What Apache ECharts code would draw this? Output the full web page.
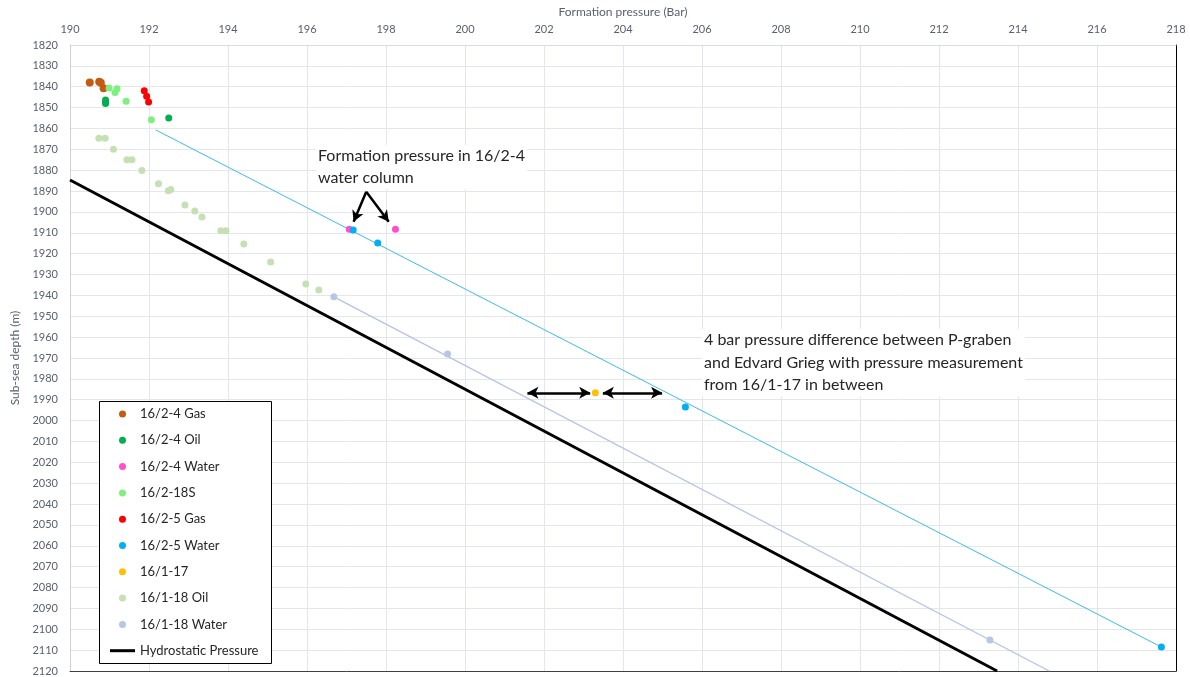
<!DOCTYPE html>
<html>
<head>
<meta charset="utf-8">
<title>Formation pressure vs depth</title>
<script src="https://cdn.jsdelivr.net/npm/echarts@6/dist/echarts.min.js"></script>
<style>
  html, body { margin: 0; padding: 0; background: #fff; }
  #chart { width: 1190px; height: 677px; }
</style>
</head>
<body>
<div id="chart"></div>
<script>
// Pressure (bar) vs sub-sea depth (m) measurements per well
const gas24 = [[190.50, 1838.0], [190.74, 1837.6], [190.78, 1838.1], [190.85, 1840.7]];
const oil24 = [[190.90, 1846.4], [190.90, 1847.2], [190.90, 1848.0], [192.50, 1855.0]];
const water24 = [[197.07, 1908.3], [198.24, 1908.3]];
const well218S = [[190.99, 1840.6], [191.19, 1841.0], [191.14, 1842.8], [191.42, 1846.9], [192.06, 1855.8]];
const gas25 = [[191.88, 1841.9], [191.94, 1844.6], [191.99, 1847.3]];
const water25 = [[197.17, 1908.6], [197.79, 1914.9], [205.58, 1993.5], [217.63, 2108.5]];
const well117 = [[203.30, 1986.7]];
const oil118 = [
  [190.73, 1864.7], [190.89, 1864.7], [191.10, 1870.0], [191.44, 1875.0], [191.57, 1875.0],
  [191.82, 1880.2], [192.24, 1886.5], [192.49, 1889.8], [192.55, 1889.2], [192.91, 1896.7],
  [193.16, 1899.5], [193.34, 1902.4], [193.82, 1909.0], [193.95, 1909.0], [194.40, 1915.4],
  [195.08, 1924.0], [195.97, 1934.5], [196.30, 1937.4]
];
const water118 = [[196.68, 1940.7], [199.56, 1968.1], [213.29, 2105.2]];

// Gradient lines
const hydrostatic = [[190.00, 1884.7], [213.47, 2120.0]];
const trend25 = [[192.17, 1860.7], [217.63, 2108.5]];
const trend118 = [[196.68, 1940.7], [214.79, 2120.0]];

// Annotation arrows (data coordinates)
const diffArrows = [
  [[201.58, 1986.7], [203.17, 1986.7]],
  [[203.49, 1986.7], [204.99, 1986.7]]
];
const waterApex = [197.50, 1890.3];
const waterTargets = [[197.18, 1904.7], [198.07, 1904.7]];

// Axis ranges
const xRange = { min: 190, max: 218, interval: 2 };
const yRange = { min: 1820, max: 2120, interval: 10 };

const FONT = 'Lato';
const AXIS_TEXT = '#596070';

const scatterDefs = [
  { name: '16/2-4 Gas', data: gas24, color: '#C55A11', size: 8 },
  { name: '16/2-4 Oil', data: oil24, color: '#00B050', size: 7 },
  { name: '16/2-4 Water', data: water24, color: '#FF4FD0', size: 7 },
  { name: '16/2-18S', data: well218S, color: '#7DF07D', size: 7 },
  { name: '16/2-5 Gas', data: gas25, color: '#FF0000', size: 7 },
  { name: '16/2-5 Water', data: water25, color: '#00B0F0', size: 7 },
  { name: '16/1-17', data: well117, color: '#FFC000', size: 7 },
  { name: '16/1-18 Oil', data: oil118, color: '#C5E0B4', size: 7 },
  { name: '16/1-18 Water', data: water118, color: '#B4C7E7', size: 7 }
];

const arrowLines = diffArrows.map(a => [
  { coord: a[0], symbol: 'arrow' },
  { coord: a[1], symbol: 'arrow' }
]).concat(waterTargets.map(t => [
  { coord: waterApex, symbol: 'none' },
  { coord: t, symbol: 'arrow' }
]));

const series = [
  {
    name: '16/2-5 Water gradient', type: 'line', data: trend25, symbol: 'none', silent: true,
    lineStyle: { color: '#3BBCEB', width: 1 }, z: 1
  },
  {
    name: '16/1-18 Water gradient', type: 'line', data: trend118, symbol: 'none', silent: true,
    lineStyle: { color: '#B4C3E4', width: 1.3 }, z: 1
  },
  {
    name: 'Hydrostatic Pressure', type: 'line', data: hydrostatic, symbol: 'none', silent: true,
    lineStyle: { color: '#000', width: 3 }, itemStyle: { color: '#000' }, z: 1
  }
].concat(scatterDefs.map(d => ({
  name: d.name, type: 'scatter', data: d.data, symbolSize: d.size,
  itemStyle: { color: d.color, opacity: 1 }, z: 3
})));

// Arrows drawn on the 16/1-17 series
series.forEach(s => {
  if (s.name === '16/1-17') {
    s.markLine = {
      silent: true, symbolSize: [9, 11], animation: false,
      label: { show: false },
      lineStyle: { color: '#000', width: 2.5, type: 'solid' },
      emphasis: { disabled: true },
      data: arrowLines
    };
  }
});

const legendNames = scatterDefs.map(d => d.name).concat(['Hydrostatic Pressure']);

const chart = echarts.init(document.getElementById('chart'), null, { renderer: 'canvas' });
chart.setOption({
  animation: false,
  backgroundColor: '#fff',
  textStyle: { fontFamily: FONT },
  grid: { left: 70, right: 14, top: 45, bottom: 6 },
  xAxis: [
    {
      type: 'value', position: 'top', min: xRange.min, max: xRange.max, interval: xRange.interval,
      name: 'Formation pressure (Bar)', nameLocation: 'middle', nameGap: 27,
      nameTextStyle: { color: AXIS_TEXT, fontSize: 12, fontFamily: FONT },
      axisLine: { show: true, lineStyle: { color: '#D9DCE3', width: 1 } },
      axisTick: { show: false },
      axisLabel: { color: AXIS_TEXT, fontSize: 11, margin: 10, fontFamily: FONT },
      splitLine: { show: true, lineStyle: { color: '#E3E6EC', width: 1 } }
    },
    {
      type: 'value', position: 'bottom', min: xRange.min, max: xRange.max,
      axisLine: { show: true, onZero: false, lineStyle: { color: '#404040', width: 1 } },
      axisTick: { show: false }, axisLabel: { show: false }, splitLine: { show: false }
    }
  ],
  yAxis: [
    {
      type: 'value', inverse: true, min: yRange.min, max: yRange.max, interval: yRange.interval,
      name: 'Sub-sea depth (m)', nameLocation: 'middle', nameGap: 44,
      nameTextStyle: { color: AXIS_TEXT, fontSize: 12, fontFamily: FONT },
      axisLine: { show: true, onZero: false, lineStyle: { color: '#CDD2DA', width: 1 } },
      axisTick: { show: false },
      axisLabel: { color: AXIS_TEXT, fontSize: 11, margin: 12, fontFamily: FONT, formatter: v => String(v) },
      splitLine: { show: true, lineStyle: { color: '#E3E6EC', width: 1 } }
    },
    {
      type: 'value', position: 'right', inverse: true, min: yRange.min, max: yRange.max,
      axisLine: { show: true, onZero: false, lineStyle: { color: '#000', width: 1 } },
      axisTick: { show: false }, axisLabel: { show: false }, splitLine: { show: false }
    }
  ],
  legend: {
    orient: 'vertical', left: 110, top: 407.5, padding: 0,
    itemWidth: 25, itemHeight: 7, itemGap: 13.3,
    selectedMode: false,
    textStyle: { fontSize: 13, color: '#262626', fontFamily: FONT },
    data: legendNames.map(n => n === 'Hydrostatic Pressure'
      ? { name: n, icon: 'path://M0,0L25,0L25,3L0,3Z', itemStyle: { color: '#000' } }
      : { name: n })
  },
  graphic: [
    {
      type: 'rect', z: 3, silent: true,
      shape: { x: 99.5, y: 401.5, width: 172, height: 262 },
      style: { fill: '#fff', stroke: '#000', lineWidth: 1 }
    },
    {
      type: 'text', z: 5, left: 316, top: 145, silent: true,
      style: {
        text: 'Formation pressure in 16/2-4\nwater column',
        font: '16px Lato', fill: '#262626', lineHeight: 22,
        backgroundColor: '#fff', padding: [0, 2, 0, 2]
      }
    },
    {
      type: 'text', z: 5, left: 702, top: 329, silent: true,
      style: {
        text: '4 bar pressure difference between P-graben\nand Edvard Grieg with pressure measurement\nfrom 16/1-17 in between',
        font: '16px Lato', fill: '#262626', lineHeight: 22.5,
        backgroundColor: '#fff', padding: [0, 2, 0, 2]
      }
    }
  ],
  series: series
});
</script>
</body>
</html>
